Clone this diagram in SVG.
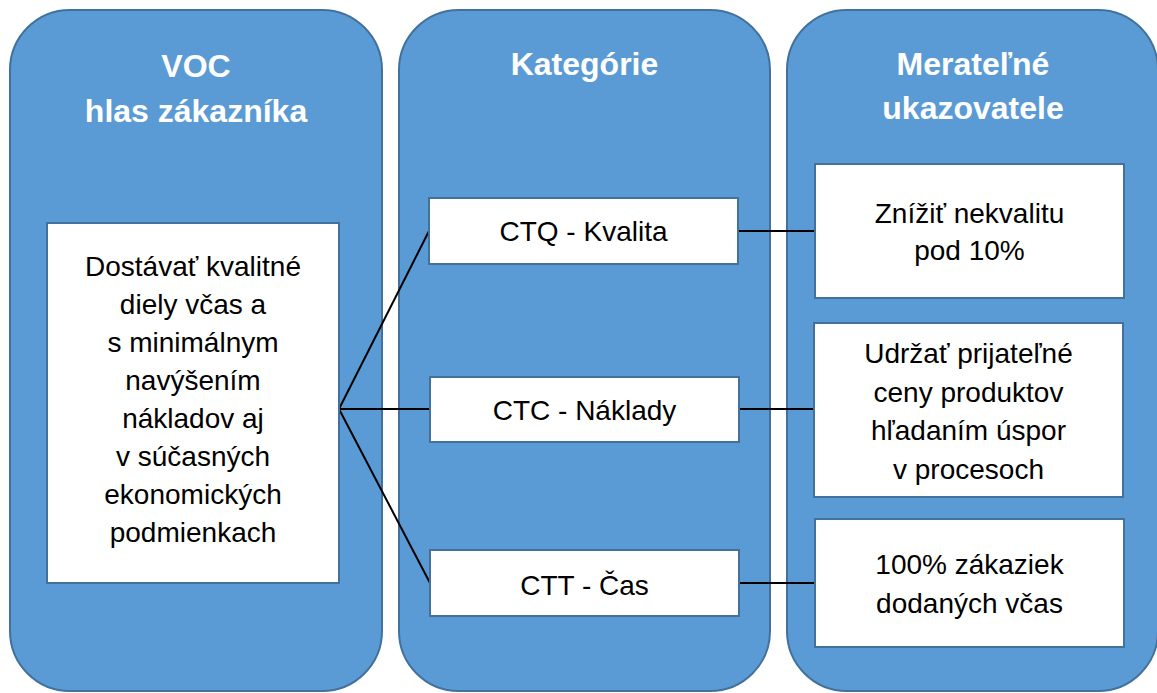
<svg xmlns="http://www.w3.org/2000/svg" width="1157" height="693" viewBox="0 0 1157 693">
  <style>
    .panel { fill: #5b9bd5; stroke: #41719c; stroke-width: 2; }
    .box { fill: #ffffff; stroke: #41719c; stroke-width: 2; }
    .head { font-family: "Liberation Sans", Arial, sans-serif; font-weight: bold; font-size: 32px; fill: #ffffff; text-anchor: middle; }
    .body { font-family: "Liberation Sans", Arial, sans-serif; font-size: 28px; fill: #000000; text-anchor: middle; }
    .link { stroke: #000000; stroke-width: 2; fill: none; }
  </style>
  <rect width="1157" height="693" fill="#ffffff"/>

  <!-- column 1: voice of customer -->
  <g id="col-voc">
    <rect class="panel" x="10" y="10" width="372" height="681" rx="60" ry="60"/>
    <text class="head" x="196" y="77">VOC</text>
    <text class="head" x="196" y="122">hlas zákazníka</text>
  </g>

  <!-- column 2: categories -->
  <g id="col-kategorie">
    <rect class="panel" x="399" y="10" width="371" height="681" rx="60" ry="60"/>
    <text class="head" x="584.5" y="75">Kategórie</text>
  </g>

  <!-- column 3: measurable indicators -->
  <g id="col-ukazovatele">
    <rect class="panel" x="787" y="10" width="371" height="681" rx="60" ry="60"/>
    <text class="head" x="973" y="75">Merateľné</text>
    <text class="head" x="973" y="119">ukazovatele</text>
  </g>

  <!-- connectors -->
  <g id="connectors">
    <line class="link" x1="339" y1="409" x2="429" y2="231"/>
    <line class="link" x1="339" y1="409" x2="430" y2="409"/>
    <line class="link" x1="339" y1="409" x2="430" y2="583"/>
    <line class="link" x1="738" y1="231" x2="815" y2="231"/>
    <line class="link" x1="739" y1="409" x2="815" y2="409"/>
    <line class="link" x1="739" y1="583" x2="815" y2="583"/>
  </g>

  <g id="voc-need">
    <rect class="box" x="47" y="223" width="292" height="360"/>
    <text class="body" x="193" y="276">Dostávať kvalitné</text>
    <text class="body" x="193" y="314">diely včas a</text>
    <text class="body" x="193" y="352">s minimálnym</text>
    <text class="body" x="193" y="390">navýšením</text>
    <text class="body" x="193" y="428">nákladov aj</text>
    <text class="body" x="193" y="466">v súčasných</text>
    <text class="body" x="193" y="504">ekonomických</text>
    <text class="body" x="193" y="542">podmienkach</text>
  </g>

  <g id="ctq">
    <rect class="box" x="429" y="198" width="309" height="66"/>
    <text class="body" x="583.5" y="241">CTQ - Kvalita</text>
  </g>
  <g id="ctc">
    <rect class="box" x="430" y="377" width="309" height="65"/>
    <text class="body" x="584.5" y="420">CTC - Náklady</text>
  </g>
  <g id="ctt">
    <rect class="box" x="430" y="550" width="309" height="66"/>
    <text class="body" x="584.5" y="595">CTT - Čas</text>
  </g>

  <g id="metric-kvalita">
    <rect class="box" x="815" y="164" width="309" height="134"/>
    <text class="body" x="969.5" y="223">Znížiť nekvalitu</text>
    <text class="body" x="969.5" y="260">pod 10%</text>
  </g>
  <g id="metric-naklady">
    <rect class="box" x="814" y="323" width="309" height="174"/>
    <text class="body" x="968.5" y="363">Udržať prijateľné</text>
    <text class="body" x="968.5" y="401.5">ceny produktov</text>
    <text class="body" x="968.5" y="440">hľadaním úspor</text>
    <text class="body" x="968.5" y="478.5">v procesoch</text>
  </g>
  <g id="metric-cas">
    <rect class="box" x="815" y="519" width="309" height="128"/>
    <text class="body" x="969.5" y="574">100% zákaziek</text>
    <text class="body" x="969.5" y="613">dodaných včas</text>
  </g>
</svg>
